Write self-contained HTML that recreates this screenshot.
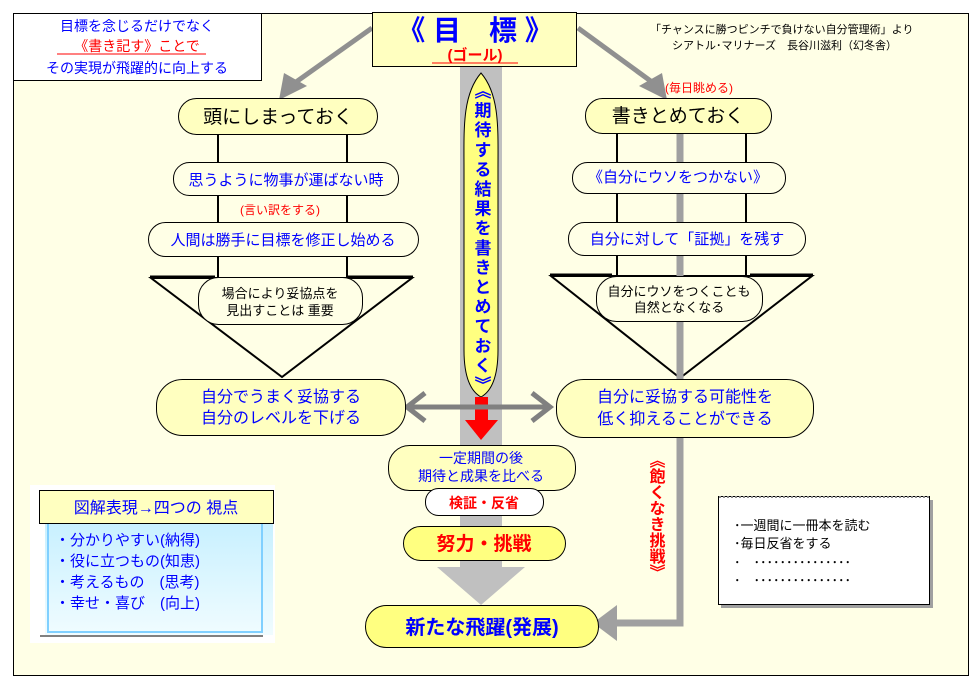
<!DOCTYPE html>
<html><head><meta charset="utf-8"><style>
html,body{margin:0;padding:0;background:#fff;}
svg{display:block;font-family:"Liberation Sans","Noto Sans CJK JP",sans-serif;}
</style></head><body>
<svg width="971" height="688" viewBox="0 0 971 688" xmlns="http://www.w3.org/2000/svg">
<rect x="0" y="0" width="971" height="688" fill="#fff"/>
<rect x="13.5" y="13.5" width="955" height="662" fill="#ffffe6" stroke="#000" stroke-width="1"/>
<rect x="460" y="67" width="42" height="505" fill="#c0c0c0"/>
<polygon points="437,567 525,567 481,605" fill="#c0c0c0"/>
<line x1="372" y1="28" x2="296" y2="82" stroke="#909090" stroke-width="5"/>
<polygon points="279,100 284,73 307,86" fill="#909090"/>
<line x1="578" y1="28" x2="652" y2="82" stroke="#909090" stroke-width="5"/>
<polygon points="667,100 662,73 639,86" fill="#909090"/>
<polyline points="680,133 680,623 605,623" fill="none" stroke="#a0a0a0" stroke-width="7"/>
<polygon points="593,623 617,605 617,641" fill="#a0a0a0"/>
<line x1="218" y1="134" x2="218" y2="280" stroke="#000" stroke-width="2"/>
<line x1="347" y1="134" x2="347" y2="280" stroke="#000" stroke-width="2"/>
<line x1="617" y1="133" x2="617" y2="278" stroke="#000" stroke-width="2"/>
<line x1="746" y1="133" x2="746" y2="278" stroke="#000" stroke-width="2"/>
<polygon points="151,278 412,278 282,377" fill="none" stroke="#000" stroke-width="2"/>
<line x1="150" y1="277" x2="215" y2="277" stroke="#000" stroke-width="3"/>
<line x1="347" y1="277" x2="413" y2="277" stroke="#000" stroke-width="3"/>
<polygon points="551,276 812,276 680,378" fill="none" stroke="#000" stroke-width="2"/>
<line x1="550" y1="275" x2="612" y2="275" stroke="#000" stroke-width="3"/>
<line x1="750" y1="275" x2="813" y2="275" stroke="#000" stroke-width="3"/>
<line x1="680" y1="270" x2="680" y2="380" stroke="#a0a0a0" stroke-width="7"/>
<rect x="13.5" y="13.5" width="248" height="67" fill="#fff" stroke="#000"/>
<text x="137" y="31" font-size="14" fill="#0000ff" text-anchor="middle">目標を念じるだけでなく</text>
<text x="137" y="51" font-size="14" fill="#ff0000" text-anchor="middle">《書き記す》ことで</text>
<line x1="57" y1="54" x2="206" y2="54" stroke="#ff0000"/>
<text x="137" y="73" font-size="14" fill="#0000ff" text-anchor="middle">その実現が飛躍的に向上する</text>
<rect x="372.5" y="12.5" width="204" height="54" fill="#ffffc0" stroke="#000"/>
<text x="475" y="40" font-size="28" fill="#0000ff" text-anchor="middle" font-weight="bold">《 目　標 》</text>
<text x="475" y="60" font-size="15" fill="#ff0000" text-anchor="middle" font-weight="bold">(ゴール)</text>
<line x1="432" y1="63" x2="518" y2="63" stroke="#ff0000"/>
<text x="650" y="33" font-size="11" fill="#000">「チャンスに勝つピンチで負けない自分管理術」より</text>
<text x="672" y="49" font-size="11" fill="#000">シアトル･マリナーズ　長谷川滋利（幻冬舎）</text>
<text x="665" y="92" font-size="12" fill="#ff0000">(毎日眺める)</text>
<path d="M481,73 C500,95 498,130 498,170 L498,350 C498,380 490,392 481,397 C472,392 464,380 464,350 L464,170 C464,130 462,95 481,73 Z" fill="#ffff80" stroke="#000"/>
<text font-size="17" fill="#0000ff" font-weight="bold" x="481" y="82" style="writing-mode:vertical-rl" letter-spacing="2.6">《期待する結果を書きとめておく》</text>
<rect x="475" y="397" width="13" height="24" fill="#ff0000"/>
<polygon points="465,420 498,420 481,440" fill="#ff0000"/>
<line x1="410" y1="407" x2="550" y2="407" stroke="#808080" stroke-width="5"/>
<polyline points="425,393 407,407 425,421" fill="none" stroke="#808080" stroke-width="5"/>
<polyline points="532,393 550,407 532,421" fill="none" stroke="#808080" stroke-width="5"/>
<g stroke="#000" stroke-width="1">
<rect x="178.5" y="98.5" width="199" height="36" rx="18" fill="#ffffc0"/>
<rect x="585.5" y="98.5" width="186" height="35" rx="17" fill="#ffffc0"/>
<rect x="173.5" y="162.5" width="225" height="33" rx="16" fill="#ffffe6"/>
<rect x="148.5" y="222.5" width="270" height="34" rx="17" fill="#ffffe6"/>
<rect x="572.5" y="162.5" width="213" height="31" rx="15" fill="#ffffe6"/>
<rect x="568.5" y="222.5" width="237" height="33" rx="16" fill="#ffffe6"/>
<rect x="198.5" y="277.5" width="164" height="47" rx="20" fill="#ffffe6"/>
<rect x="596.5" y="276.5" width="166" height="45" rx="20" fill="#ffffe6"/>
<rect x="156.5" y="379.5" width="249" height="56" rx="26" fill="#ffffc0"/>
<rect x="556.5" y="379.5" width="257" height="58" rx="27" fill="#ffffc0"/>
<rect x="388.5" y="445.5" width="187" height="45" rx="21" fill="#ffffc0"/>
<rect x="425.5" y="488.5" width="118" height="27" rx="13" fill="#fff"/>
<rect x="403.5" y="526.5" width="162" height="34" rx="17" fill="#ffff80"/>
<rect x="365.5" y="605.5" width="233" height="42" rx="21" fill="#ffff80"/>
</g>
<g font-size="16" text-anchor="middle">
<text x="278" y="123" font-size="19" fill="#000">頭にしまっておく</text>
<text x="678" y="122" font-size="19" fill="#000">書きとめておく</text>
<text x="286" y="185" fill="#0000ff" font-size="15">思うように物事が運ばない時</text>
<text x="280" y="214" fill="#ff0000" font-size="12">(言い訳をする)</text>
<text x="283" y="245" fill="#0000ff" font-size="15">人間は勝手に目標を修正し始める</text>
<text x="678" y="182" fill="#0000ff" font-size="15">《自分にウソをつかない》</text>
<text x="687" y="244" fill="#0000ff" font-size="15">自分に対して「証拠」を残す</text>
<text x="280" y="298" fill="#000" font-size="13">場合により妥協点を</text>
<text x="280" y="315" fill="#000" font-size="13">見出すことは 重要</text>
<text x="679" y="296" fill="#000" font-size="13">自分にウソをつくことも</text>
<text x="679" y="312" fill="#000" font-size="13">自然となくなる</text>
<text x="281" y="402" fill="#0000ff">自分でうまく妥協する</text>
<text x="281" y="423" fill="#0000ff">自分のレベルを下げる</text>
<text x="685" y="402" fill="#0000ff">自分に妥協する可能性を</text>
<text x="685" y="424" fill="#0000ff">低く抑えることができる</text>
<text x="481" y="463" fill="#0000ff" font-size="14">一定期間の後</text>
<text x="481" y="481" fill="#0000ff" font-size="14">期待と成果を比べる</text>
<text x="484" y="508" fill="#ff0000" font-size="14" font-weight="bold">検証・反省</text>
<text x="484" y="550" fill="#ff0000" font-size="19" font-weight="bold">努力・挑戦</text>
<text x="482" y="634" fill="#0000ff" font-size="20" font-weight="bold">新たな飛躍(発展)</text>
</g>
<text x="655" y="452" font-size="16" fill="#ff0000" font-weight="bold" style="writing-mode:vertical-rl">《飽くなき挑戦》</text>
<rect x="721" y="500" width="212" height="108" fill="#a0a0a0"/>
<rect x="718.5" y="496.5" width="211" height="108" fill="#fff" stroke="#000" stroke-width="1"/>
<line x1="719" y1="497" x2="930" y2="497" stroke="#888" stroke-width="2" stroke-dasharray="2,2"/>
<g font-size="13" fill="#000">
<text x="734" y="530">･一週間に一冊本を読む</text>
<text x="734" y="548">･毎日反省をする</text>
<text x="734" y="567">･　･･･････････････</text>
<text x="734" y="585">･　･･･････････････</text>
</g>
<rect x="30" y="485" width="245" height="158" fill="#fff"/>
<defs><linearGradient id="cy" x1="0" y1="0" x2="0" y2="1"><stop offset="0" stop-color="#c8f0ff"/><stop offset="1" stop-color="#f0fcff"/></linearGradient></defs>
<rect x="45" y="523" width="228" height="112" fill="url(#cy)"/>
<rect x="48" y="520" width="214" height="112" fill="none" stroke="#80d0ff" stroke-width="2"/>
<line x1="40" y1="636" x2="263" y2="636" stroke="#000"/>
<rect x="39.5" y="490.5" width="234" height="33" fill="#ffffc0" stroke="#000"/>
<text x="156" y="513" font-size="16" fill="#0000ff" text-anchor="middle">図解表現→四つの 視点</text>
<g font-size="15" fill="#0000ff">
<text x="55" y="545">・分かりやすい(納得)</text>
<text x="55" y="566">・役に立つもの(知恵)</text>
<text x="55" y="587">・考えるもの　(思考)</text>
<text x="55" y="608">・幸せ・喜び　(向上)</text>
</g>
</svg>
</body></html>
